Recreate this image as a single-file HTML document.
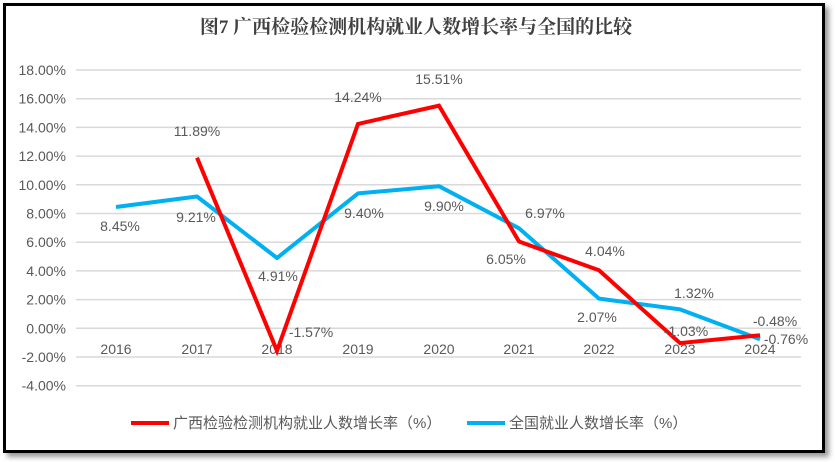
<!DOCTYPE html>
<html><head><meta charset="utf-8"><style>
body{margin:0;width:835px;height:462px;background:#fff;overflow:hidden;position:relative}
.box{position:absolute;left:3px;top:3px;width:816px;height:444px;border:3px solid #000;box-shadow:4px 4px 5px #999;background:#fff}
svg{position:absolute;left:0;top:0}
text{font-family:"Liberation Sans","Noto Sans CJK SC",sans-serif;fill:#595959;font-size:14px}
</style></head><body>
<div class="box"></div>
<svg width="835" height="462">
<text x="416" y="33" text-anchor="middle" style="font-size:19px;font-weight:bold;fill:#404040;font-family:'Liberation Serif','Noto Serif CJK SC',serif">图7 广西检验检测机构就业人数增长率与全国的比较</text>
<g stroke="#d9d9d9" stroke-width="1.5">
<line x1="76" x2="801" y1="70" y2="70"/><line x1="76" x2="801" y1="98.7" y2="98.7"/><line x1="76" x2="801" y1="127.4" y2="127.4"/><line x1="76" x2="801" y1="156.1" y2="156.1"/><line x1="76" x2="801" y1="184.8" y2="184.8"/><line x1="76" x2="801" y1="213.5" y2="213.5"/><line x1="76" x2="801" y1="242.2" y2="242.2"/><line x1="76" x2="801" y1="270.9" y2="270.9"/><line x1="76" x2="801" y1="299.6" y2="299.6"/><line x1="76" x2="801" y1="328.3" y2="328.3"/><line x1="76" x2="801" y1="357" y2="357"/><line x1="76" x2="801" y1="385.7" y2="385.7"/>
</g>
<g text-anchor="end">
<text x="66" y="75">18.00%</text><text x="66" y="103.7">16.00%</text><text x="66" y="132.4">14.00%</text><text x="66" y="161.1">12.00%</text><text x="66" y="189.8">10.00%</text><text x="66" y="218.5">8.00%</text><text x="66" y="247.2">6.00%</text><text x="66" y="275.9">4.00%</text><text x="66" y="304.6">2.00%</text><text x="66" y="333.3">0.00%</text><text x="66" y="362">-2.00%</text><text x="66" y="390.7">-4.00%</text>
</g>
<g text-anchor="middle">
<text x="116" y="354">2016</text><text x="197" y="354">2017</text><text x="277" y="354">2018</text><text x="358" y="354">2019</text><text x="439" y="354">2020</text><text x="519" y="354">2021</text><text x="599" y="354">2022</text><text x="680" y="354">2023</text><text x="760" y="354">2024</text>
</g>
<polyline fill="none" stroke="#00b0f0" stroke-width="4" stroke-linejoin="round" points="116,207 197,196.5 277,258 358,193.4 439,186.2 519,228.3 599,298.6 680,309.4 760,339.2"/>
<polyline fill="none" stroke="#ff0000" stroke-width="4" stroke-linejoin="miter" points="197,157.7 277,350.8 358,123.9 439,105.7 519,241.5 599,270.3 680,343.1 760,335.2"/>
<g text-anchor="middle">
<text x="120" y="231">8.45%</text><text x="196" y="222">9.21%</text><text x="278" y="281">4.91%</text><text x="364" y="218">9.40%</text><text x="444" y="211">9.90%</text><text x="545" y="218">6.97%</text><text x="597" y="322">2.07%</text><text x="694" y="298">1.32%</text><text x="786" y="344">-0.76%</text>
<text x="197" y="136">11.89%</text><text x="311" y="337">-1.57%</text><text x="358" y="102">14.24%</text><text x="439" y="84">15.51%</text><text x="506" y="264">6.05%</text><text x="605" y="256">4.04%</text><text x="686" y="336">-1.03%</text><text x="775" y="326">-0.48%</text>
</g>
<line x1="131" x2="169" y1="423" y2="423" stroke="#ff0000" stroke-width="4"/>
<text x="173" y="428" style="font-size:15px">广西检验检测机构就业人数增长率（%）</text>
<line x1="467" x2="505" y1="423" y2="423" stroke="#00b0f0" stroke-width="4"/>
<text x="509" y="428" style="font-size:15px">全国就业人数增长率（%）</text>
</svg>
</body></html>
